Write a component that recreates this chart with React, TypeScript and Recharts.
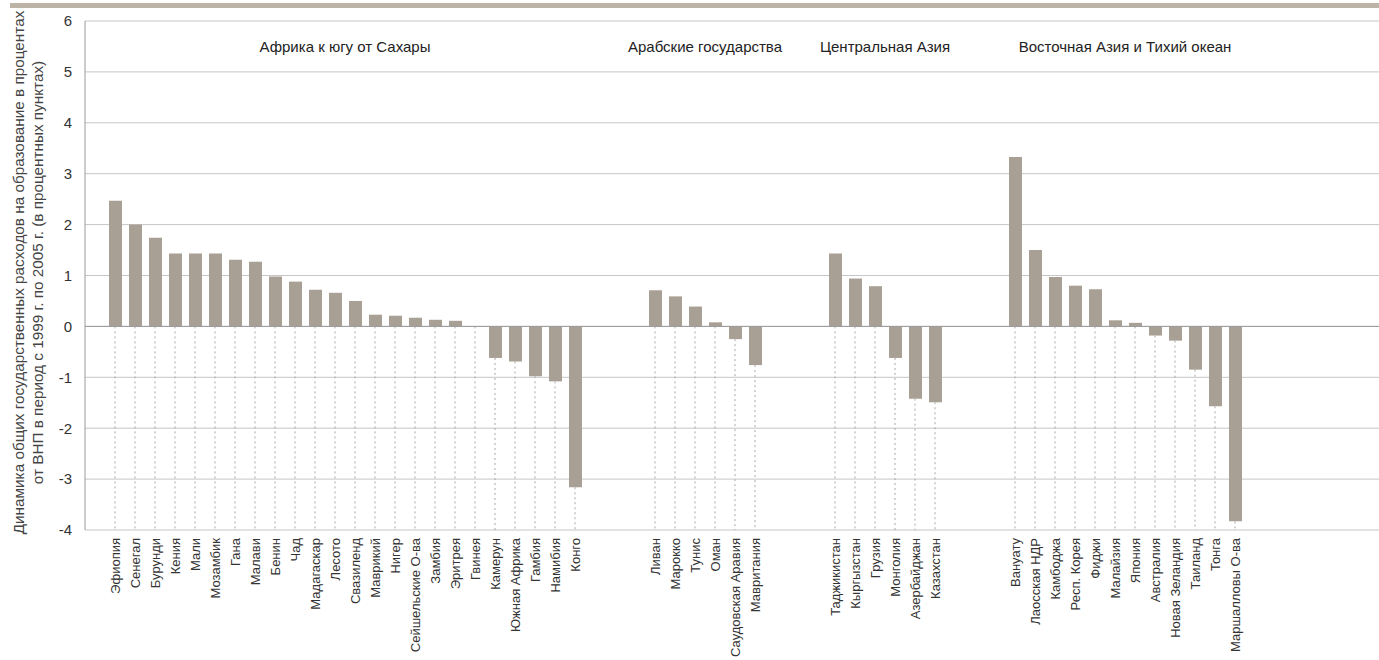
import React from 'react'
import {
  BarChart,
  Bar,
  XAxis,
  YAxis,
  CartesianGrid,
  ReferenceLine,
  ReferenceArea,
} from 'recharts'

const africa = [
  'Эфиопия', 'Сенегал', 'Бурунди', 'Кения', 'Мали', 'Мозамбик', 'Гана', 'Малави',
  'Бенин', 'Чад', 'Мадагаскар', 'Лесото', 'Свазиленд', 'Маврикий', 'Нигер',
  'Сейшельские О-ва', 'Замбия', 'Эритрея', 'Гвинея', 'Камерун', 'Южная Африка',
  'Гамбия', 'Намибия', 'Конго',
]
const africaValues = [
  2.47, 2.0, 1.74, 1.43, 1.43, 1.43, 1.31, 1.27, 0.98, 0.88, 0.72, 0.66, 0.5,
  0.23, 0.21, 0.17, 0.13, 0.11, 0, -0.62, -0.69, -0.98, -1.08, -3.16,
]

const arab = ['Ливан', 'Марокко', 'Тунис', 'Оман', 'Саудовская Аравия', 'Мавритания']
const arabValues = [0.71, 0.59, 0.39, 0.08, -0.25, -0.76]

const centralAsia = ['Таджикистан', 'Кыргызстан', 'Грузия', 'Монголия', 'Азербайджан', 'Казахстан']
const centralAsiaValues = [1.43, 0.94, 0.79, -0.62, -1.42, -1.49]

const eastAsia = [
  'Вануату', 'Лаосская НДР', 'Камбоджа', 'Респ. Корея', 'Фиджи', 'Малайзия',
  'Япония', 'Австралия', 'Новая Зеландия', 'Таиланд', 'Тонга', 'Маршалловы О-ва',
]
const eastAsiaValues = [3.33, 1.5, 0.97, 0.8, 0.73, 0.12, 0.07, -0.18, -0.28, -0.85, -1.57, -3.83]

const groupTitles = [
  'Африка к югу от Сахары',
  'Арабские государства',
  'Центральная Азия',
  'Восточная Азия и Тихий океан',
]

const yTicks = [-4, -3, -2, -1, 0, 1, 2, 3, 4, 5, 6]

const yTitle = [
  'Динамика общих государственных расходов на образование в процентах',
  'от ВНП в период с 1999 г. по 2005 г. (в процентных пунктах)',
]

const FONT = '"Liberation Sans", Arial, sans-serif'
const BAR = '#a9a095'

let gapCount = 0
const gap = (n: number) =>
  Array.from({ length: n }, () => ({ key: `gap-${gapCount++}`, value: null as number | null }))
const rows = (names: string[], vals: number[]) => names.map((n, i) => ({ key: n, value: vals[i] }))

const groups = [
  { title: groupTitles[0], names: africa, values: africaValues },
  { title: groupTitles[1], names: arab, values: arabValues },
  { title: groupTitles[2], names: centralAsia, values: centralAsiaValues },
  { title: groupTitles[3], names: eastAsia, values: eastAsiaValues },
]

// one empty slot before Africa, three between regions, spare room on the right
const data = [
  ...gap(1),
  ...rows(africa, africaValues),
  ...gap(3),
  ...rows(arab, arabValues),
  ...gap(3),
  ...rows(centralAsia, centralAsiaValues),
  ...gap(3),
  ...rows(eastAsia, eastAsiaValues),
  ...gap(7),
]

const CountryTick = ({ x, y, payload }: any) => {
  if (String(payload.value).startsWith('gap-')) return <g />
  return (
    <text
      x={x}
      y={y}
      dy="0.36em"
      transform={`rotate(-90, ${x}, ${y})`}
      textAnchor="end"
      fontSize={13}
      fontFamily={FONT}
      fill="#333"
    >
      {payload.value}
    </text>
  )
}

const YTitle = ({ viewBox }: any) => {
  const cy = viewBox ? viewBox.y + viewBox.height / 2 - 3 : 272
  return (
    <g fontFamily={FONT} fontSize={15.3} fill="#444">
      <text x={24} y={cy} transform={`rotate(-90, 24, ${cy})`} textAnchor="middle">
        {yTitle[0]}
      </text>
      <text x={43} y={cy} transform={`rotate(-90, 43, ${cy})`} textAnchor="middle">
        {yTitle[1]}
      </text>
    </g>
  )
}

export default function App() {
  return (
    <div
      style={{
        position: 'absolute',
        left: 0,
        top: 0,
        width: 1379,
        height: 660,
        overflow: 'hidden',
        background: '#fff',
      }}
    >
      {/* decorative rule along the top of the figure */}
      <div
        style={{
          position: 'absolute',
          left: 10,
          top: 3,
          width: 1369,
          height: 5,
          background: '#bdb4a8',
          zIndex: 5,
        }}
      />
      <div style={{ position: 'absolute', left: 0, top: 0 }}>
        <BarChart
          width={1385}
          height={660}
          data={data}
          margin={{ top: 21, right: 0, left: 0, bottom: 0 }}
          barSize={13}
        >
          <CartesianGrid horizontal vertical={false} stroke="#c6c6c6" />
          <XAxis
            dataKey="key"
            interval={0}
            axisLine={false}
            tickLine={false}
            tickSize={0}
            tickMargin={8}
            height={130}
            tick={<CountryTick />}
          />
          <YAxis
            type="number"
            domain={[-4, 6]}
            ticks={yTicks}
            width={85}
            interval={0}
            tickLine={false}
            tickSize={6}
            tickMargin={7}
            axisLine={{ stroke: '#9a9a9a' }}
            tick={{ fontSize: 15, fill: '#333', fontFamily: FONT }}
            label={<YTitle />}
          />
          {groups.map((g) => (
            <ReferenceArea
              key={g.title}
              x1={g.names[0]}
              x2={g.names[g.names.length - 1]}
              y1={5}
              y2={6}
              fill="none"
              fillOpacity={0}
              stroke="none"
              label={{ value: g.title, position: 'center', fill: '#222', fontSize: 15, fontFamily: FONT }}
            />
          ))}
          {groups.flatMap((g) =>
            g.names.map((n, i) => (
              <ReferenceLine
                key={`d-${n}`}
                segment={[
                  { x: n, y: Math.min(g.values[i], 0) },
                  { x: n, y: -4 },
                ]}
                stroke="#a8a8a8"
                strokeDasharray="2 3"
              />
            ))
          )}
          <ReferenceLine y={0} stroke="#9a9a9a" />
          <Bar dataKey="value" fill={BAR} isAnimationActive={false} />
        </BarChart>
      </div>
    </div>
  )
}
